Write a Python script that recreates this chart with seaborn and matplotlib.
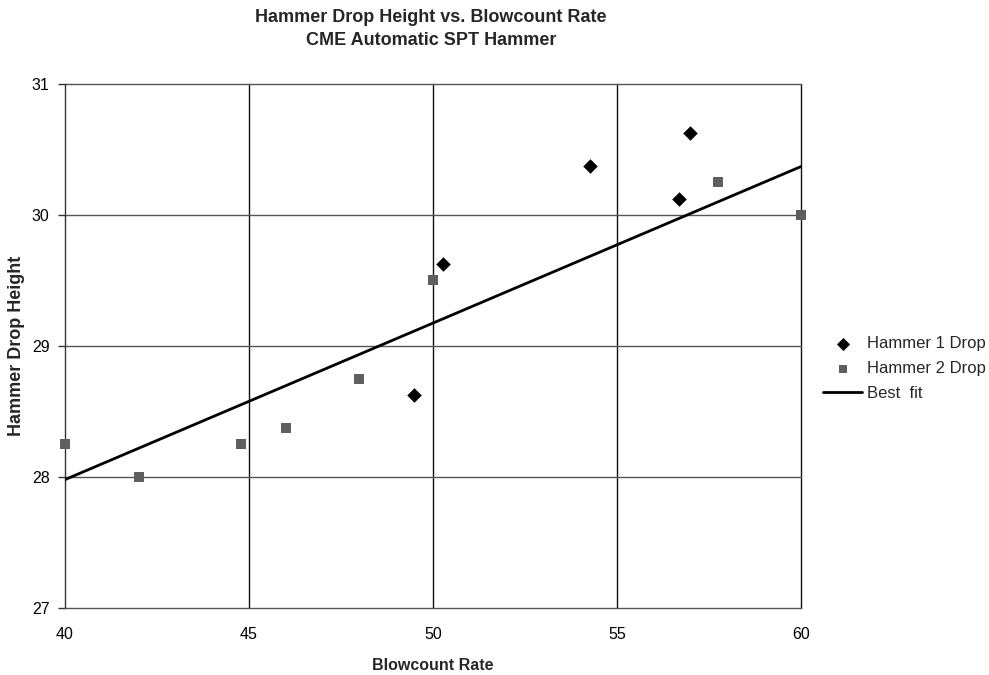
import numpy as np
import pandas as pd
import matplotlib
matplotlib.use("Agg")
import matplotlib.pyplot as plt
import seaborn as sns

# Hammer 1 drop test readings
h1_blowcount = [50.27, 49.48, 54.27, 56.68, 56.98]
h1_drop = [29.625, 28.625, 30.375, 30.125, 30.625]

# Hammer 2 drop test readings
h2_blowcount = [40.0, 42.0, 44.78, 46.0, 48.0, 50.0, 57.74, 60.0]
h2_drop = [28.25, 28.0, 28.25, 28.375, 28.75, 29.5, 30.25, 30.0]

# Best-fit line end points
fit_blowcount = [40.0, 60.0]
fit_drop = [27.98, 30.37]

x_ticks = [40, 45, 50, 55, 60]
y_ticks = [27, 28, 29, 30, 31]

sns.set_theme(style="white")
plt.rcParams["font.family"] = ["Liberation Sans", "DejaVu Sans"]

fig = plt.figure(figsize=(9.89, 6.75), dpi=100)
ax = fig.add_axes([0.0657, 0.0993, 0.7443, 0.7763])

h1 = pd.DataFrame({"x": h1_blowcount, "y": h1_drop})
h2 = pd.DataFrame({"x": h2_blowcount, "y": h2_drop})
fit = pd.DataFrame({"x": fit_blowcount, "y": fit_drop})

sns.scatterplot(data=h1, x="x", y="y", ax=ax, marker="D", s=55, color="black",
                edgecolor="black", linewidth=0, label="Hammer 1 Drop", zorder=4,
                clip_on=False)
sns.scatterplot(data=h2, x="x", y="y", ax=ax, marker="s", s=42, color="#5f5f5f",
                edgecolor="#5f5f5f", linewidth=0, label="Hammer 2 Drop", zorder=4,
                clip_on=False)
sns.lineplot(data=fit, x="x", y="y", ax=ax, color="black", linewidth=2.0,
             label="Best  fit", zorder=3)

ax.set_xlim(40, 60)
ax.set_ylim(27, 31)
ax.set_xticks(x_ticks)
ax.set_yticks(y_ticks)
ax.set_xticklabels([str(t) for t in x_ticks], fontsize=11.5)
ax.set_yticklabels([str(t) for t in y_ticks], fontsize=11.5)

# Grid: vertical lines dark, horizontal lines gray
for xv in x_ticks[1:]:
    ax.axvline(xv, color="#111111", linewidth=1.0, zorder=1, clip_on=False)
for yv in y_ticks[1:]:
    ax.axhline(yv, color="#555555", linewidth=1.0, zorder=1, clip_on=False)

for side in ["top", "right"]:
    ax.spines[side].set_visible(False)
ax.spines["left"].set_color("#333333")
ax.spines["left"].set_linewidth(1.0)
ax.spines["bottom"].set_color("#555555")
ax.spines["bottom"].set_linewidth(1.0)

ax.tick_params(axis="y", which="major", direction="out", length=5, width=1,
               color="#333333", pad=6, labelcolor="black", left=True)
ax.tick_params(axis="x", which="major", length=0, pad=14, labelcolor="black")

ax.set_xlabel("Blowcount Rate", fontsize=11.5, fontweight="bold", labelpad=11)
ax.set_ylabel("Hammer Drop Height", fontsize=13, fontweight="bold", labelpad=5)

fig.text(0.436, 0.957, "Hammer Drop Height vs. Blowcount Rate\nCME Automatic SPT Hammer",
         ha="center", va="center", fontsize=13, fontweight="bold", linespacing=1.45)

leg = ax.legend(loc="center left", bbox_to_anchor=(1.01, 0.457), frameon=False,
                fontsize=12, handlelength=2.3, handletextpad=0.3, labelspacing=0.6,
                markerscale=0.9)

fig.savefig("out.png", dpi=100, facecolor="white")
